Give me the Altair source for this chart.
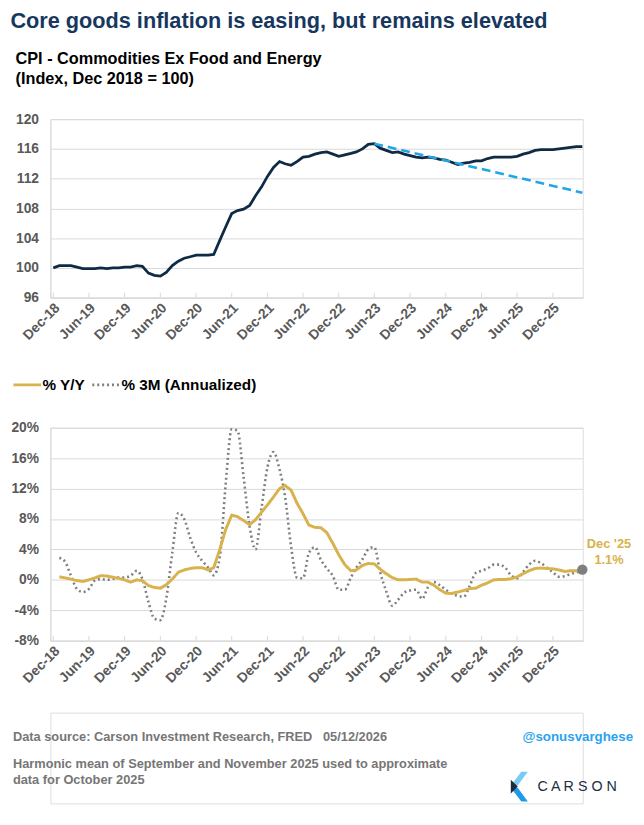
import altair as alt
import pandas as pd

FONT = "Liberation Sans"
NAVY = "#0F2A44"
TITLE_NAVY = "#17375E"
TREND_BLUE = "#1FA6E6"
GOLD = "#D8B24C"
DOT_GREY = "#7F7F7F"
AX_GREY = "#595959"
GRID = "#D9D9D9"
FOOT_GREY = "#767676"
HANDLE_BLUE = "#2AA3F0"

# ---------------- data ----------------
months = pd.date_range("2018-12-01", periods=90, freq="MS").strftime("%Y-%m-%d").tolist()

cpi_index = [
    100.0, 100.3, 100.3, 100.3, 100.1, 99.9, 99.9, 99.9, 100.0, 99.9, 100.0, 100.0,
    100.1, 100.1, 100.3, 100.2, 99.3, 99.0, 98.9, 99.4, 100.3, 100.9, 101.3, 101.5,
    101.7, 101.7, 101.7, 101.8, 103.7, 105.5, 107.3, 107.7, 107.9, 108.4, 109.7, 110.9,
    112.3, 113.5, 114.3, 114.0, 113.8, 114.3, 114.9, 115.0, 115.3, 115.5, 115.6, 115.3,
    115.0, 115.2, 115.4, 115.6, 116.0, 116.6, 116.7, 116.1, 115.8, 115.5, 115.6, 115.3,
    115.1, 114.9, 114.8, 114.9, 114.8, 114.6, 114.5, 114.2, 113.9, 114.1, 114.2, 114.4,
    114.4, 114.7, 114.9, 114.9, 114.9, 114.9, 115.0, 115.3, 115.5, 115.8, 115.9, 115.9,
    115.9, 116.0, 116.1, 116.2, 116.3, 116.3,
]

# % Y/Y and % 3M annualized, starting one month after the index (Jan-19)
yoy = [
    0.4, 0.25, 0.1, -0.1, -0.2, 0.0, 0.25, 0.55, 0.5, 0.35, 0.2, 0.0,
    -0.3, 0.0, -0.1, -0.75, -1.0, -1.1, -0.65, 0.1, 1.0, 1.3, 1.5, 1.6,
    1.6, 1.3, 1.6, 4.0, 6.6, 8.5, 8.3, 7.8, 7.25, 7.9, 8.9, 9.85,
    10.9, 12.0, 12.4, 11.8, 10.1, 8.7, 7.2, 6.9, 6.85, 6.2, 4.8, 3.3,
    2.0, 1.2, 1.3, 1.9, 2.15, 2.1, 1.4, 0.8, 0.3, 0.0, 0.0, 0.05,
    0.1, -0.3, -0.3, -0.7, -1.3, -1.75, -1.8, -1.6, -1.4, -1.15, -1.1, -0.7,
    -0.4, 0.0, 0.05, 0.05, 0.15, 0.4, 0.8, 1.2, 1.5, 1.55, 1.5, 1.45,
    1.3, 1.1, 1.2, 1.2, 1.35,
]
ann_3m = [
    2.9, 2.3, 0.55, -1.2, -1.6, -1.2, -0.1, 0.1, 0.0, 0.1, 0.3, 0.3,
    0.55, 1.2, 0.1, -2.9, -5.1, -5.3, -2.5, 3.6, 8.8, 8.0, 5.5, 3.6,
    2.5, 1.6, 0.6, 3.0, 12.5, 19.8, 19.6, 13.5, 7.0, 4.0, 9.5, 14.8,
    16.8, 14.5, 11.0, 4.4, 0.3, 0.2, 3.5, 4.3, 2.6, 1.5, 0.5, -1.3,
    -1.3, 0.3, 1.6, 2.7, 4.0, 4.3, 1.0, -1.5, -3.4, -2.6, -1.7, -1.4,
    -1.3, -2.5, -1.0, -0.3, -0.7, -1.3, -1.8, -2.1, -2.2, -0.8, 0.9, 1.2,
    1.5, 2.0, 2.0, 1.6, 0.6, 0.2, 1.0, 2.0, 2.5, 2.2, 1.6, 1.0,
    0.4, 0.5, 0.75, 1.0, 1.2,
]
pct_months = months[1:]

trend_dates = ["2023-06-01", "2026-05-01"]
trend_values = [116.7, 110.1]

tick_dates = pd.date_range("2018-12-01", "2025-12-01", freq="6MS").strftime("%Y-%m-%d").tolist()
index_ticks = [96, 100, 104, 108, 112, 116, 120]
pct_ticks = [-8, -4, 0, 4, 8, 12, 16, 20]

series_names = ["% Y/Y", "% 3M (Annualized)"]
title_text = "Core goods inflation is easing, but remains elevated"
subtitle_lines = ["CPI - Commodities Ex Food and Energy", "(Index, Dec 2018 = 100)"]
callout_lines = ["Dec '25", "1.1%"]
source_text = "Data source: Carson Investment Research, FRED\u00a0\u00a0\u00a005/12/2026"
handle_text = "@sonusvarghese"
note_lines = ["Harmonic mean of September and November 2025 used to approximate",
              "data for October 2025"]
logo_text = "C A R S O N"

# ---------------- tables ----------------
df_index = pd.DataFrame({"date": months, "value": cpi_index})
df_trend = pd.DataFrame({"date": trend_dates, "value": trend_values})
df_ticks = pd.DataFrame({"date": tick_dates})
df_pct = pd.concat([
    pd.DataFrame({"date": pct_months, "value": yoy, "series": series_names[0]}),
    pd.DataFrame({"date": pct_months, "value": ann_3m, "series": series_names[1]}),
])
df_last = pd.DataFrame({"date": [pct_months[-1]], "value": [yoy[-1]]})

W = 540
H_TOP = 181
H_BOT = 216

x_domain = [alt.DateTime(year=2018, month=11, date=16, utc=True),
            alt.DateTime(year=2026, month=5, date=3, utc=True)]
tick_values = [alt.DateTime(year=int(d[:4]), month=int(d[5:7]), date=1, utc=True) for d in tick_dates]


def x_enc():
    return alt.X(
        "date:T",
        scale=alt.Scale(type="utc", domain=x_domain),
        axis=alt.Axis(
            values=tick_values, labelExpr="utcFormat(datum.value, '%b-%y')",
            labelAngle=-45, labelAlign="right", labelBaseline="top",
            labelPadding=3, labelOffset=-1, ticks=False, grid=False,
            domainColor=GRID, domainWidth=1,
            labelColor=AX_GREY, labelFont=FONT, labelFontWeight="bold", labelFontSize=14,
            labelOverlap=False, labelFlush=False, title=None,
        ),
        title=None,
    )


def y_axis(values, expr=None):
    kw = dict(values=values, grid=True, gridColor=GRID, gridWidth=1, ticks=False,
              domain=True, domainColor=GRID, labelPadding=12,
              labelColor=AX_GREY, labelFont=FONT, labelFontWeight="bold", labelFontSize=14,
              title=None)
    if expr:
        kw["labelExpr"] = expr
    return alt.Axis(**kw)


# ---------------- top chart ----------------
y_top = alt.Y("value:Q", scale=alt.Scale(domain=[96, 120], nice=False, zero=False),
              axis=y_axis(index_ticks), title=None)

top_ticks = alt.Chart(df_ticks).mark_rule(color=GRID, strokeWidth=1).encode(
    x=x_enc(), y=alt.value(H_TOP), y2=alt.value(H_TOP - 5))
top_line = alt.Chart(df_index).mark_line(color=NAVY, strokeWidth=2.8).encode(x=x_enc(), y=y_top)
top_trend = alt.Chart(df_trend).mark_line(color=TREND_BLUE, strokeWidth=2.6, strokeDash=[9, 5]).encode(
    x=x_enc(), y=y_top)

top = alt.layer(top_ticks, top_line, top_trend).properties(
    width=W, height=H_TOP,
    title=alt.TitleParams(subtitle_lines, anchor="start", font=FONT, fontSize=16.5, fontWeight="bold",
                          color="black", lineHeight=20, offset=25),
)

# ---------------- bottom chart ----------------
legend = alt.Legend(orient="none", legendX=-39, legendY=-59, direction="horizontal",
                    symbolType="stroke", symbolSize=784, symbolStrokeWidth=3,
                    labelFont=FONT, labelFontSize=15.5, labelFontWeight="bold", labelColor="black",
                    labelOffset=0, columnPadding=0, title=None)
color = alt.Color("series:N", scale=alt.Scale(domain=series_names, range=[GOLD, DOT_GREY]),
                  legend=legend, title=None)
dash = alt.StrokeDash("series:N", scale=alt.Scale(domain=series_names, range=[[1, 0], [2, 3]]),
                      legend=legend, title=None)
y_bot = alt.Y("value:Q", scale=alt.Scale(domain=[-8, 20], nice=False, zero=False),
              axis=y_axis(pct_ticks, "datum.value + '%'"), title=None)

bot_ticks = alt.Chart(df_ticks).mark_rule(color=GRID, strokeWidth=1).encode(
    x=x_enc(), y=alt.value(H_BOT), y2=alt.value(H_BOT - 5))
bot_3m = alt.Chart(df_pct).transform_filter(alt.datum.series == series_names[1]).mark_line(
    strokeWidth=2.6, interpolate="monotone").encode(x=x_enc(), y=y_bot, color=color, strokeDash=dash)
bot_yoy = alt.Chart(df_pct).transform_filter(alt.datum.series == series_names[0]).mark_line(
    strokeWidth=3).encode(x=x_enc(), y=y_bot, color=color, strokeDash=dash)
bot_dot = alt.Chart(df_last).mark_circle(size=110, color=DOT_GREY, opacity=1).encode(x=x_enc(), y=y_bot)
bot_label = alt.Chart(df_last).mark_text(
    font=FONT, fontSize=13, fontWeight="bold", color=GOLD, align="center", baseline="middle",
    lineHeight=16, dx=27, dy=-26).encode(x=x_enc(), y=y_bot, text=alt.value(callout_lines))

bottom = alt.layer(bot_ticks, bot_3m, bot_yoy, bot_dot, bot_label).properties(width=W, height=H_BOT)

# ---------------- footer ----------------
df_foot = pd.DataFrame({"k": [0]})
base_txt = dict(font=FONT, fontWeight="bold", baseline="middle")
foot_source = alt.Chart(df_foot).mark_text(align="left", fontSize=13, color=FOOT_GREY, **base_txt).encode(
    x=alt.value(-38), y=alt.value(25), text=alt.value(source_text))
foot_handle = alt.Chart(df_foot).mark_text(align="right", fontSize=13.5, color=HANDLE_BLUE, **base_txt).encode(
    x=alt.value(591), y=alt.value(25), text=alt.value(handle_text))
foot_note = alt.Chart(df_foot).mark_text(align="left", fontSize=13, color=FOOT_GREY, lineHeight=16,
                                         **base_txt).encode(
    x=alt.value(-38), y=alt.value(52), text=alt.value(note_lines))

logo_upper = "M 0.11 -1 L 0.55 -1 L -0.13 -0.07 L -0.6 -0.07 Z"
logo_lower = "M -0.6 0.07 L -0.13 0.07 L 0.55 1 L 0.11 1 Z"
logo_tri = "M -0.6 -0.47 L -0.13 0 L -0.6 0.47 Z"
logo_layers = []
for shp, col in [(logo_upper, "#78CBF7"), (logo_lower, "#1E9BE6"), (logo_tri, "#1C2B40")]:
    logo_layers.append(alt.Chart(df_foot).mark_point(shape=shp, size=900, filled=True, opacity=1,
                                                     color=col, strokeWidth=0).encode(
        x=alt.value(476), y=alt.value(75)))
logo_word = alt.Chart(df_foot).mark_text(align="left", fontSize=14.5, color="#1E2D40", font=FONT,
                                         baseline="middle").encode(
    x=alt.value(494), y=alt.value(75), text=alt.value(logo_text))

footer = alt.layer(foot_source, foot_handle, foot_note, *logo_layers, logo_word).properties(width=W, height=92)

chart = alt.vconcat(top, bottom, footer, spacing=26).resolve_scale(
    color="independent", strokeDash="independent"
).properties(
    title=alt.TitleParams(title_text, anchor="start", font=FONT, fontSize=22, fontWeight="bold",
                          color=TITLE_NAVY, offset=18),
    padding={"left": 2, "top": -3, "right": 2, "bottom": 2},
).configure_view(strokeWidth=0).configure(background="white")

chart.save("out.html", embed_options={"renderer": "svg", "actions": False})
